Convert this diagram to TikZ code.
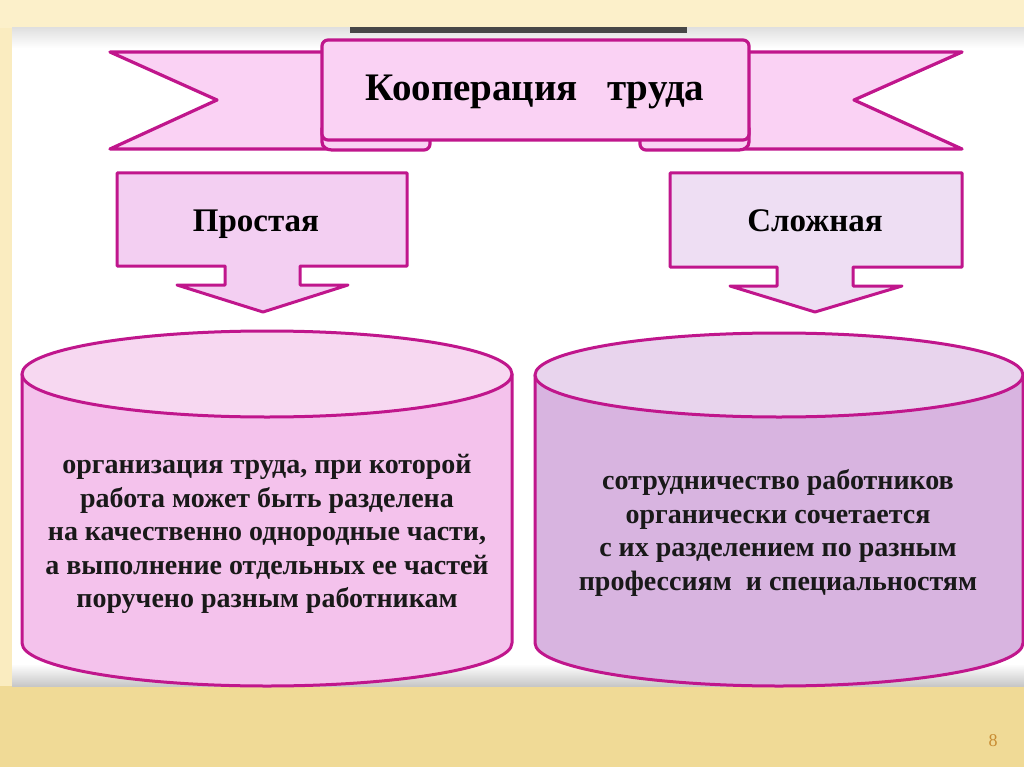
\documentclass[tikz,border=0pt]{standalone}
\usepackage{fontspec}
\setmainfont{Liberation Serif}
\definecolor{edge}{RGB}{192,22,140}
\definecolor{ribfill}{RGB}{250,210,244}
\definecolor{lcall}{RGB}{243,207,242}
\definecolor{rcall}{RGB}{238,222,243}
\definecolor{lbody}{RGB}{244,194,236}
\definecolor{ltop}{RGB}{247,216,241}
\definecolor{rbody}{RGB}{216,180,224}
\definecolor{rtop}{RGB}{232,212,237}
\definecolor{beigetop}{RGB}{252,240,202}
\definecolor{beigebot}{RGB}{240,218,150}
\definecolor{pagenum}{RGB}{200,140,50}
\tikzset{
  outline/.style={draw=edge, line width=3.2pt, line join=round},
  bodytext/.style={font=\bfseries\fontsize{28}{33.5}\selectfont, align=center, text=black!90},
  headtext/.style={font=\bfseries\fontsize{33}{33}\selectfont, anchor=base},
}
\begin{document}
\begin{tikzpicture}[x=1pt,y=-1pt]
\useasboundingbox (0,0) rectangle (1024,767);
% background
\fill[beigetop] (0,0) rectangle (1024,30);
\fill[beigebot] (0,684) rectangle (1024,767);
\fill[beigetop!80!beigebot] (0,28) rectangle (12,686);
\fill[white] (12,28) rectangle (1024,686);
\shade[top color=black!12, bottom color=white] (12,28) rectangle (1024,48);
\shade[top color=white, bottom color=black!22] (12,664) rectangle (1024,686);
\fill[black!72] (350,27) rectangle (687,33);
% ribbon tails
\draw[outline, fill=ribfill] (110,52) -- (340,52) -- (340,149) -- (110,149) -- (217,100) -- cycle;
\draw[outline, fill=ribfill] (962,52) -- (730,52) -- (730,149) -- (962,149) -- (854,100) -- cycle;
% folds
\draw[outline, fill=ribfill] (322,128) -- (322,142) to[out=-90,in=180] (332,150) -- (424,150) to[out=0,in=-90] (430,144) -- (430,128) -- cycle;
\draw[outline, fill=ribfill] (749,128) -- (749,142) to[out=-90,in=0] (739,150) -- (646,150) to[out=180,in=-90] (640,144) -- (640,128) -- cycle;
% center band
\draw[outline, fill=ribfill, rounded corners=6pt] (322,140) -- (322,40) -- (749,40) -- (749,140) -- cycle;
\node[font=\bfseries\fontsize{39}{39}\selectfont, anchor=base] (title) at (535,101) {Кооперация\ \ \ труда};
% callouts
\draw[outline, line width=3pt, fill=lcall] (117,173) -- (407,173) -- (407,266) -- (300,266) -- (300,285) -- (348,285) -- (263,312) -- (177,285) -- (225,285) -- (225,266) -- (117,266) -- cycle;
\node[headtext] (simple) at (256,232) {Простая};
\draw[outline, line width=3pt, fill=rcall] (670,173) -- (962,173) -- (962,267) -- (853,267) -- (853,286) -- (902,286) -- (815,312) -- (730,286) -- (777,286) -- (777,267) -- (670,267) -- cycle;
\node[headtext] (complex) at (815,232) {Сложная};
% left cylinder
\draw[outline, line width=3pt, fill=lbody] (22,374) -- (22,643) arc[start angle=180, end angle=0, x radius=245, y radius=43] -- (512,374) -- cycle;
\draw[outline, line width=3pt, fill=ltop] (267,374) ellipse [x radius=245, y radius=43];
\node[bodytext] (ltext) at (267,534) {организация труда, при которой\\работа может быть разделена\\на качественно однородные части,\\а выполнение отдельных ее частей\\поручено разным работникам};
% right cylinder
\draw[outline, line width=3pt, fill=rbody] (535,375) -- (535,643) arc[start angle=180, end angle=0, x radius=244, y radius=43] -- (1023,375) -- cycle;
\draw[outline, line width=3pt, fill=rtop] (779,375) ellipse [x radius=244, y radius=42];
\node[bodytext] (rtext) at (778,533) {сотрудничество работников\\органически сочетается\\с их разделением по разным\\профессиям\ \ и специальностям};
% page number
\node[text=pagenum, font=\fontsize{18}{18}\selectfont] (page) at (993,741) {8};
\end{tikzpicture}
\end{document}
